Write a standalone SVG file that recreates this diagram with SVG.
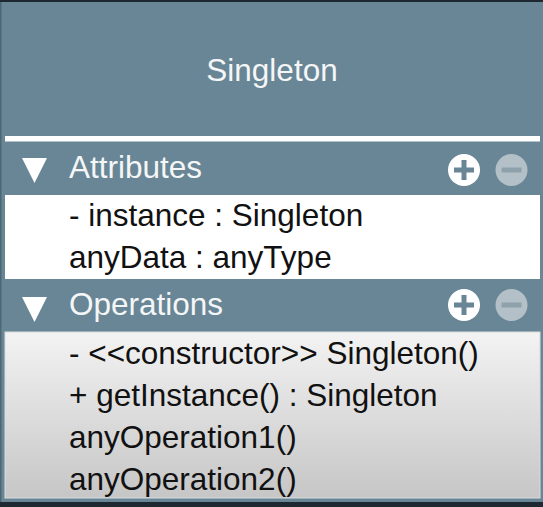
<svg xmlns="http://www.w3.org/2000/svg" width="543" height="507" viewBox="0 0 543 507">
<defs>
<style>
.hdr{font-family:"Liberation Sans",Arial,sans-serif;font-size:31.5px;fill:#f4f6f7}
.item{font-family:"Liberation Sans",Arial,sans-serif;font-size:31.5px;fill:#111}
.tri{fill:#ffffff}
.plus{fill:#ffffff}
.minus{fill:#b3c0c7}
.cross{fill:#688695}
</style>
<linearGradient id="opg" x1="0" y1="0" x2="0" y2="1">
<stop offset="0" stop-color="#f3f3f3"/>
<stop offset="1" stop-color="#c6c6c6"/>
</linearGradient>
<g id="pm">
<circle cx="0" cy="0" r="16" class="plus"/>
<rect x="-10" y="-2.5" width="20" height="5" class="cross"/>
<rect x="-2.5" y="-10" width="5" height="20" class="cross"/>
<circle cx="47.5" cy="0" r="16" class="minus"/>
<rect x="37.5" y="-2.5" width="20" height="5" fill="#8fa2ac"/>
</g>
</defs>
<rect x="0" y="0" width="543" height="507" fill="#1e2830"/>
<g id="class-singleton">
<rect x="0" y="2" width="543" height="500" fill="#688695"/>
<rect x="0" y="2" width="1.5" height="500" fill="#4e6774"/>
<text class="hdr" x="272" y="81" text-anchor="middle">Singleton</text>
<rect x="5" y="136" width="535" height="5.5" fill="#ffffff"/>
</g>
<g id="attributes">
<polygon class="tri" points="22,158 47,158 34.5,183"/>
<text class="hdr" x="69" y="178">Attributes</text>
<use href="#pm" x="464" y="170"/>
<rect x="5" y="195" width="535" height="84" fill="#ffffff"/>
<text class="item" x="69" y="226">- instance : Singleton</text>
<text class="item" x="69" y="268">anyData : anyType</text>
</g>
<g id="operations">
<polygon class="tri" points="22,297 47,297 34.5,322"/>
<text class="hdr" x="69" y="315">Operations</text>
<use href="#pm" x="464" y="305"/>
<rect x="5" y="332" width="535" height="166" fill="url(#opg)" stroke="#d8dcde" stroke-width="1"/>
<text class="item" x="69" y="364">- &lt;&lt;constructor&gt;&gt; Singleton()</text>
<text class="item" x="69" y="406">+ getInstance() : Singleton</text>
<text class="item" x="69" y="448">anyOperation1()</text>
<text class="item" x="69" y="490">anyOperation2()</text>
</g>
<g id="connectors"/>
</svg>
